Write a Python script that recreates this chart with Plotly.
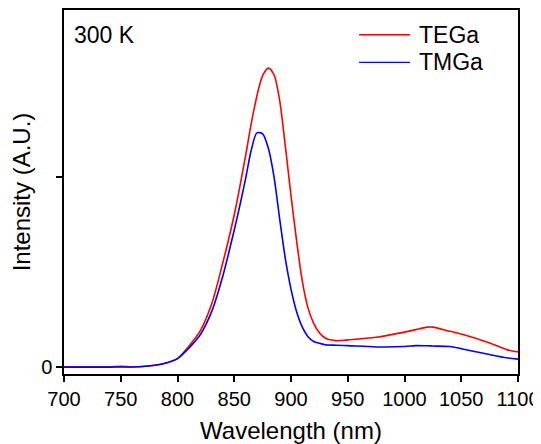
import plotly.graph_objects as go

# wavelength samples (nm) and PL intensity
wavelength = [700, 720, 740, 750, 760, 780, 790, 800, 810, 820, 830, 840, 850, 855,
              860, 865, 870, 875, 880, 885, 890, 895, 900, 905, 910, 915, 920, 925,
              930, 940, 950, 975, 1000, 1010, 1020, 1025, 1040, 1050, 1075, 1090, 1100]
tega = [0, 0.001, 0.001, 0.004, 0.001, 0.01, 0.022, 0.045, 0.11, 0.19, 0.33, 0.55, 0.80, 0.95,
        1.11, 1.28, 1.425, 1.53, 1.57, 1.535, 1.40, 1.16, 0.90, 0.66, 0.45, 0.31, 0.23, 0.18,
        0.153, 0.139, 0.143, 0.157, 0.184, 0.197, 0.21, 0.21, 0.188, 0.174, 0.127, 0.092, 0.08]
tmga = [0, 0, 0, 0.001, 0.001, 0.01, 0.022, 0.045, 0.10, 0.17, 0.29, 0.48, 0.72, 0.85,
        0.99, 1.14, 1.23, 1.225, 1.15, 1.0, 0.78, 0.57, 0.41, 0.29, 0.21, 0.16, 0.135, 0.125,
        0.118, 0.115, 0.113, 0.106, 0.108, 0.113, 0.112, 0.111, 0.108, 0.097, 0.066, 0.049, 0.042]
series = [("TEGa", tega, "#ff0000"), ("TMGa", tmga, "#0000ff")]

FONT = "Liberation Sans, Arial, sans-serif"

fig = go.Figure()
for name, vals, col in series:
    fig.add_trace(go.Scatter(x=wavelength, y=vals, name=name, mode="lines",
                             line=dict(color=col, width=1.6, shape="spline", smoothing=0.8)))

# hand-drawn legend (line samples + labels) to match the reference look
leg_y = [0.932, 0.856]
for (name, vals, col), yy in zip(series, leg_y):
    fig.add_shape(type="line", xref="paper", yref="paper", x0=0.650, x1=0.762, y0=yy, y1=yy,
                  line=dict(color=col, width=1.3))
    fig.add_annotation(x=0.778, y=yy, xref="paper", yref="paper", text=name, showarrow=False,
                       xanchor="left", yanchor="middle", font=dict(size=23, color="black", family=FONT))

fig.add_annotation(x=0.017, y=0.932, xref="paper", yref="paper", text="300 K", showarrow=False,
                   xanchor="left", yanchor="middle", font=dict(size=23, color="black", family=FONT))

# page body keeps an 8px margin, so the figure is made 8px smaller each way
fig.update_layout(
    width=533, height=436,
    margin=dict(l=56, r=23, t=0, b=70),
    paper_bgcolor="white", plot_bgcolor="white",
    showlegend=False,
    font=dict(family=FONT, color="black"),
)
fig.update_xaxes(range=[700, 1100], tickvals=list(range(700, 1101, 50)),
                 ticks="outside", ticklen=6, tickwidth=1.5, tickcolor="black",
                 showline=True, linecolor="black", linewidth=1.5, mirror=True,
                 showgrid=False, zeroline=False, tickfont=dict(size=20),
                 title=dict(text="Wavelength (nm)", font=dict(size=24), standoff=17))
fig.update_yaxes(range=[-0.036, 1.875], tickvals=[0, 1], ticktext=["0", ""],
                 ticks="outside", ticklen=6, tickwidth=1.5, tickcolor="black",
                 showline=True, linecolor="black", linewidth=1.5, mirror=True,
                 showgrid=False, zeroline=False, tickfont=dict(size=20),
                 title=dict(text="Intensity (A.U.)", font=dict(size=24), standoff=4))

fig.write_html("out.html")
